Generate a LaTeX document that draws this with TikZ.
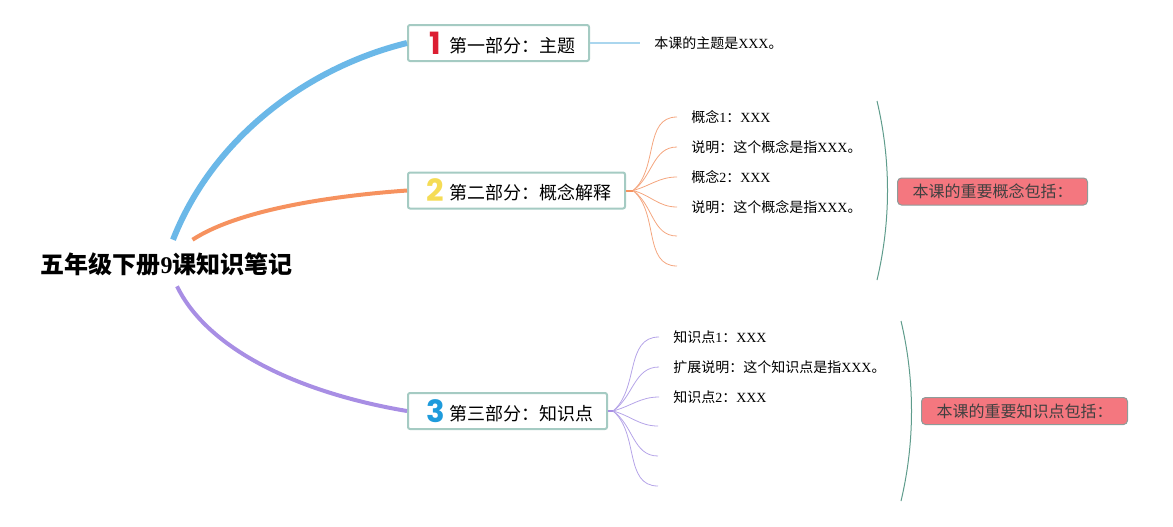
\documentclass[tikz,border=0pt]{standalone}
\usepackage{fontspec}
\usepackage{xcolor}
\setmainfont{Liberation Serif}
\newfontfamily\cjk{Noto Sans CJK SC}
\newfontfamily\badgefont{Poppins}
\usetikzlibrary{calc}
\definecolor{blueline}{HTML}{6BB8E8}
\definecolor{blueleaf}{HTML}{AAD6EE}
\definecolor{orangeline}{HTML}{F6925F}
\definecolor{orangeleaf}{HTML}{F4A67F}
\definecolor{purpleline}{HTML}{A88EE4}
\definecolor{purpleleaf}{HTML}{B5A4E8}
\definecolor{boxline}{HTML}{A5CBC3}
\definecolor{bracegreen}{HTML}{5F9C8C}
\definecolor{notefill}{HTML}{F4777F}
\definecolor{noteline}{HTML}{8E9C9A}
\definecolor{badgered}{HTML}{DC1E32}
\definecolor{badgeyellow}{HTML}{F5DC55}
\definecolor{badgeblue}{HTML}{1E9BDC}
\newcommand{\badge}[2]{\makebox[20.25pt][c]{\raisebox{-1.5pt}{\color{#1}\badgefont\bfseries\fontsize{23}{23}\selectfont #2}}}
\newcommand{\fwcolon}{{\cjk\symbol{"FF1A}}}

\begin{document}
\begin{tikzpicture}[x=0.75pt, y=-0.75pt]
    % Styles for boxes and lines
    \tikzstyle{rootbox} = [fill=white, inner xsep=0pt, inner ysep=0pt, minimum width=188.25pt, minimum height=36.75pt, font=\fontsize{18}{20}\selectfont\bfseries]
    \tikzstyle{partbox} = [rectangle, rounded corners=1.5pt, draw=boxline, line width=1.5pt, fill=white, inner xsep=10.5pt, inner ysep=0pt, minimum height=27pt, font=\fontsize{13.5}{15}\selectfont]
    \tikzstyle{leaf} = [inner xsep=10.5pt, inner ysep=0pt, anchor=west, font=\fontsize{10.5}{12}\selectfont]
    \tikzstyle{note} = [rectangle, rounded corners=3pt, draw=noteline, line width=0.75pt, fill=notefill, text=black!75, inner xsep=11.25pt, inner ysep=0pt, minimum height=20.25pt, font=\fontsize{12}{14}\selectfont]
    \tikzstyle{brace} = [draw=bracegreen, line width=0.75pt]

    \useasboundingbox (0,0) rectangle (1173,526);

  % Nodes with explicit coordinates
    \node[rootbox] (root) at (166.5,264.5) {{\cjk 五年级下册}9{\cjk 课知识笔记}};
    \node[partbox, anchor=west] (partOne) at (407,43) {\badge{badgered}{1}{\cjk 第一部分}\fwcolon{\cjk 主题}};
    \node[partbox, anchor=west] (partTwo) at (407,190.5) {\badge{badgeyellow}{2}{\cjk 第二部分}\fwcolon{\cjk 概念解释}};
    \node[partbox, anchor=west] (partThree) at (407,411) {\badge{badgeblue}{3}{\cjk 第三部分}\fwcolon{\cjk 知识点}};

    \node[leaf] (theme) at (640,43) {{\cjk 本课的主题是}XXX{\cjk 。}};

    \node[leaf] (conceptA) at (677,117) {{\cjk 概念}1\fwcolon XXX};
    \node[leaf] (conceptB) at (677,147) {{\cjk 说明}\fwcolon{\cjk 这个概念是指}XXX{\cjk 。}};
    \node[leaf] (conceptC) at (677,177) {{\cjk 概念}2\fwcolon XXX};
    \node[leaf] (conceptD) at (677,207) {{\cjk 说明}\fwcolon{\cjk 这个概念是指}XXX{\cjk 。}};
    \coordinate (conceptE) at (677,236);
    \coordinate (conceptF) at (677,266);
    \coordinate (hubTwo) at (633,190.5);

    \node[leaf] (pointA) at (659,337) {{\cjk 知识点}1\fwcolon XXX};
    \node[leaf] (pointB) at (659,367) {{\cjk 扩展说明}\fwcolon{\cjk 这个知识点是指}XXX{\cjk 。}};
    \node[leaf] (pointC) at (659,397) {{\cjk 知识点}2\fwcolon XXX};
    \coordinate (pointD) at (658,426);
    \coordinate (pointE) at (658,456);
    \coordinate (pointF) at (658,486);
    \coordinate (hubThree) at (613,411);

    \node[note, anchor=west] (noteTwo) at (897,191.5) {{\cjk 本课的重要概念包括}\fwcolon};
    \node[note, anchor=west] (noteThree) at (921,411) {{\cjk 本课的重要知识点包括}\fwcolon};

    \coordinate (braceTwoTop) at (877,101);
    \coordinate (braceTwoBottom) at (877,280);
    \coordinate (braceThreeTop) at (901,321);
    \coordinate (braceThreeBottom) at (901,501);

  % Main branches
    \draw[blueline, line width=4.5pt] ($(root.north)+(6.5,0)$) .. controls (212,140) and (305,68) .. (partOne.west);
    \draw[orangeline, line width=3pt] ($(root.north)+(26,0)$) .. controls (238,210) and (330,196) .. (partTwo.west);
    \draw[purpleline, line width=3pt] ($(root.south)+(10.5,-3)$) .. controls (208,350) and (300,393) .. (partThree.west);

  % Leaf branches
    \draw[blueleaf, line width=1.5pt] (partOne.east) -- (theme.west);

    \draw[orangeline, line width=1.5pt] (partTwo.east) -- (hubTwo);
    \draw[orangeleaf, line width=0.6pt] (hubTwo) to[out=40,in=180] (conceptA.west);
    \draw[orangeleaf, line width=0.6pt] (hubTwo) to[out=35,in=180] (conceptB.west);
    \draw[orangeleaf, line width=0.6pt] (hubTwo) to[out=15,in=180] (conceptC.west);
    \draw[orangeleaf, line width=0.6pt] (hubTwo) to[out=-15,in=180] (conceptD.west);
    \draw[orangeleaf, line width=0.6pt] (hubTwo) to[out=-35,in=180] (conceptE);
    \draw[orangeleaf, line width=0.6pt] (hubTwo) to[out=-40,in=180] (conceptF);

    \draw[purpleline, line width=1.5pt] (partThree.east) -- (hubThree);
    \draw[purpleleaf, line width=0.6pt] (hubThree) to[out=40,in=180] (pointA.west);
    \draw[purpleleaf, line width=0.6pt] (hubThree) to[out=35,in=180] (pointB.west);
    \draw[purpleleaf, line width=0.6pt] (hubThree) to[out=15,in=180] (pointC.west);
    \draw[purpleleaf, line width=0.6pt] (hubThree) to[out=-15,in=180] (pointD);
    \draw[purpleleaf, line width=0.6pt] (hubThree) to[out=-35,in=180] (pointE);
    \draw[purpleleaf, line width=0.6pt] (hubThree) to[out=-40,in=180] (pointF);

  % Braces
    \draw[brace] (braceTwoTop) .. controls (891,160) and (891,221) .. (braceTwoBottom);
    \draw[brace] (braceThreeTop) .. controls (915,380) and (915,442) .. (braceThreeBottom);

\end{tikzpicture}
\end{document}
